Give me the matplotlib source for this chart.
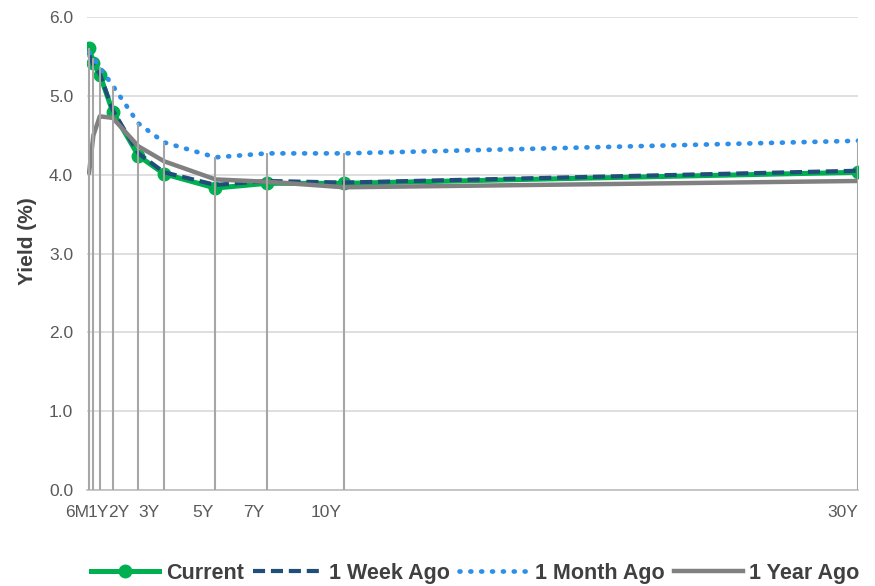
import matplotlib
matplotlib.use("Agg")
import matplotlib.pyplot as plt
import matplotlib.transforms as mtransforms
import numpy as np

# Treasury yield curve: maturity in years vs yield (%)
maturities = [1/12, 0.25, 0.5, 1, 2, 3, 5, 7, 10, 30]
current = [5.61, 5.42, 5.27, 4.80, 4.24, 4.01, 3.83, 3.89, 3.89, 4.03]
week_ago = [5.52, 5.39, 5.28, 4.82, 4.27, 4.03, 3.87, 3.92, 3.90, 4.05]
month_ago = [5.55, 5.48, 5.36, 5.13, 4.65, 4.41, 4.22, 4.27, 4.27, 4.43]
year_ago = [4.03, 4.50, 4.74, 4.72, 4.36, 4.17, 3.94, 3.91, 3.84, 3.92]

tick_years = [0.5, 1, 2, 3, 5, 7, 10, 30]
tick_labels = ["6M", "1Y", "2Y", "3Y", "5Y", "7Y", "10Y", "30Y"]
y_ticks = [0, 1, 2, 3, 4, 5, 6]

# horizontal nudges (points) for the crowded short-maturity labels
label_nudge_pt = [-7.5, -2.5, -6.5, -3, -1.5, -1.5, -1.5, 0]

plt.rcParams["font.family"] = ["Liberation Sans", "DejaVu Sans"]

fig = plt.figure(figsize=(8.75, 5.86), dpi=100)
ax = fig.add_axes([0.0994, 0.1638, 0.8812, 0.8072])

ax.set_xlim(0, 30)
ax.set_ylim(0, 6)

ax.set_yticks(y_ticks)
ax.set_yticklabels([f"{v:.1f}" for v in y_ticks])
ax.yaxis.grid(True, color="#d9d9d9", lw=1.2)
ax.set_axisbelow(True)

ax.set_xticks(tick_years)
ax.set_xticklabels(tick_labels, ha="right")
ax.tick_params(axis="both", length=0, labelsize=12.5, labelcolor="#595959")
ax.tick_params(axis="x", pad=11)
ax.tick_params(axis="y", pad=10)
for lab, dx in zip(ax.get_xticklabels(), label_nudge_pt):
    lab.set_transform(lab.get_transform() +
                      mtransforms.ScaledTranslation(dx / 72, 0, fig.dpi_scale_trans))

for s in ("top", "right", "left"):
    ax.spines[s].set_visible(False)
ax.spines["bottom"].set_color("#bfbfbf")
ax.spines["bottom"].set_linewidth(1.2)

x = np.array(maturities)
l1, = ax.plot(x, current, color="#00b050", lw=3.6, marker="o", ms=9,
              solid_joinstyle="round", zorder=3, label="Current")
l2, = ax.plot(x, week_ago, color="#1f4e79", lw=3.0, ls=(0, (2.9, 1.4)),
              zorder=4, label="1 Week Ago")
l3, = ax.plot(x, month_ago, color="#2e8fe8", lw=3.4, ls=(0, (0.2, 2.1)),
              dash_capstyle="round", zorder=4, label="1 Month Ago")
l4, = ax.plot(x, year_ago, color="#808080", lw=3.2, zorder=5,
              solid_joinstyle="round", label="1 Year Ago")

# drop lines from the highest series down to the axis
top = np.max(np.vstack([current, week_ago, month_ago, year_ago]), axis=0)
ax.vlines(x, 0, top, color="#a6a6a6", lw=1.5, zorder=6)

ax.set_ylabel("Yield (%)", fontsize=15, fontweight="bold", color="#404040")
ax.yaxis.set_label_coords(-0.065, 0.526)

leg = fig.legend(handles=[l1, l2, l3, l4], loc="center",
                 bbox_to_anchor=(0.543, 0.022), ncol=4, frameon=False,
                 handlelength=3.2, handletextpad=0.3, columnspacing=0.45,
                 prop={"size": 15.5, "weight": "bold"})
for t in leg.get_texts():
    t.set_color("#404040")

fig.savefig("out.png", dpi=100)
